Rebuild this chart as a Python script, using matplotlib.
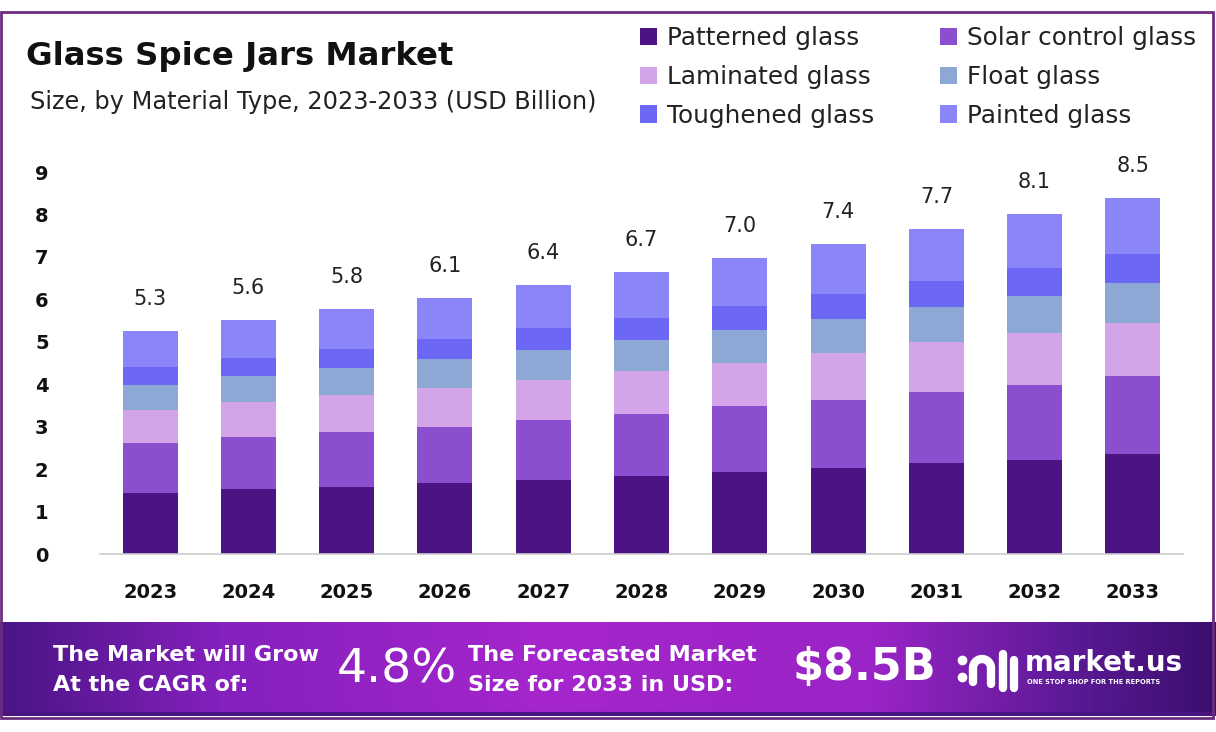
import matplotlib
matplotlib.use('Agg')
import matplotlib.pyplot as plt
import numpy as np
from matplotlib.colors import LinearSegmentedColormap
from matplotlib.patches import Rectangle, Patch
from matplotlib.lines import Line2D

plt.rcParams['font.family'] = 'DejaVu Sans'

# ===== data =====
years = ["2023", "2024", "2025", "2026", "2027", "2028", "2029", "2030", "2031", "2032", "2033"]
patterned = [1.44, 1.53, 1.59, 1.68, 1.74, 1.84, 1.94, 2.02, 2.14, 2.21, 2.35]
solar_control = [1.17, 1.22, 1.29, 1.32, 1.42, 1.45, 1.55, 1.61, 1.68, 1.77, 1.84]
laminated = [0.78, 0.84, 0.87, 0.92, 0.94, 1.02, 1.02, 1.11, 1.17, 1.23, 1.26]
float_glass = [0.59, 0.61, 0.64, 0.67, 0.71, 0.73, 0.78, 0.80, 0.82, 0.87, 0.93]
toughened = [0.43, 0.43, 0.44, 0.48, 0.51, 0.51, 0.55, 0.59, 0.63, 0.66, 0.68]
painted = [0.84, 0.88, 0.94, 0.97, 1.02, 1.09, 1.13, 1.17, 1.21, 1.28, 1.34]
total_labels = ["5.3", "5.6", "5.8", "6.1", "6.4", "6.7", "7.0", "7.4", "7.7", "8.1", "8.5"]

series_names = ["Patterned glass", "Solar control glass", "Laminated glass",
                "Float glass", "Toughened glass", "Painted glass"]
series_vals = [patterned, solar_control, laminated, float_glass, toughened, painted]
series_colors = ["#4c1482", "#8a4ecf", "#d3a4e7", "#8ea8d6", "#6d67f6", "#8b85fa"]

W, H = 1216, 732
fig = plt.figure(figsize=(W / 100, H / 100), dpi=100)

def fx(px):
    return px / W

def fy(py):
    return 1 - py / H

# ===== outer frame =====
fig.patches.append(Rectangle((fx(1), fy(718)), fx(1212), 706 / H, transform=fig.transFigure,
                             fill=False, edgecolor="#6a2c80", linewidth=2, zorder=0))

# ===== main chart =====
ax = fig.add_axes([fx(100), fy(554), fx(1083), 404 / H])
x = np.arange(len(years))
bottom = np.zeros(len(years))
handles = []
for name, vals, col in zip(series_names, series_vals, series_colors):
    ax.bar(x, vals, width=0.56, bottom=bottom, color=col, edgecolor='none', label=name)
    bottom += np.array(vals)
    handles.append(Patch(facecolor=col, edgecolor='none', label=name))

for xi, tot, lab in zip(x, bottom, total_labels):
    ax.annotate(lab, (xi, tot), xytext=(0, 23), textcoords='offset points',
                ha='center', va='center', fontsize=15, color="#222222", annotation_clip=False)

ax.set_xlim(-0.51, 10.51)
ax.set_ylim(0, 9.52)
ax.set_yticks(range(0, 10))
ax.set_xticks(x)
ax.set_xticklabels(years)
for s in ["top", "right", "left"]:
    ax.spines[s].set_visible(False)
ax.spines["bottom"].set_color("#cccccc")
ax.spines["bottom"].set_linewidth(1.2)
ax.tick_params(axis='both', length=0, labelsize=14)
ax.tick_params(axis='x', pad=21)
ax.tick_params(axis='y', pad=37)
for t in ax.get_xticklabels() + ax.get_yticklabels():
    t.set_fontweight('bold')
    t.set_color("#111111")

# ===== title =====
fig.text(fx(26), fy(57), "Glass Spice Jars Market", fontsize=23.3, fontweight='bold',
         color="#111111", va='center', ha='left')
fig.text(fx(30), fy(102), "Size, by Material Type, 2023-2033 (USD Billion)", fontsize=17.3,
         color="#222222", va='center', ha='left')

# ===== legend (two columns) =====
leg_kw = dict(loc='upper left', frameon=False, fontsize=17.8, handlelength=0.7, handleheight=0.7,
              handletextpad=0.4, labelspacing=0.6, borderpad=0, borderaxespad=0,
              labelcolor="#222222")
fig.legend(handles=[handles[0], handles[2], handles[4]],
           bbox_to_anchor=(fx(640), fy(26)), **leg_kw)
fig.legend(handles=[handles[1], handles[3], handles[5]],
           bbox_to_anchor=(fx(940), fy(26)), **leg_kw)

# ===== bottom banner =====
bax = fig.add_axes([0, fy(716), 1, (716 - 622) / H])
cmap = LinearSegmentedColormap.from_list("banner", [
    (0.0, "#4a1585"), (0.18, "#8420bd"), (0.45, "#a526cc"), (0.72, "#9a24c6"),
    (0.88, "#5c1a97"), (1.0, "#3b0e6e")])
grad = np.linspace(0, 1, 512).reshape(1, -1)
bax.imshow(grad, aspect='auto', cmap=cmap, extent=[0, W, 716, 622])
bax.axhline(714, color="#4a1480", linewidth=3)
bax.set_xlim(0, W)
bax.set_ylim(716, 622)
bax.axis('off')

white = "#ffffff"
bax.text(53, 655, "The Market will Grow", fontsize=16, fontweight='bold', color=white, va='center')
bax.text(53, 685, "At the CAGR of:", fontsize=16, fontweight='bold', color=white, va='center')
bax.text(337, 670, "4.8%", fontsize=34, color=white, va='center', ha='left')
bax.text(468, 655, "The Forecasted Market", fontsize=16, fontweight='bold', color=white, va='center')
bax.text(468, 685, "Size for 2033 in USD:", fontsize=16, fontweight='bold', color=white, va='center')
bax.text(792, 668, "$8.5B", fontsize=32, fontweight='bold', color=white, va='center', ha='left')

# logo icon
lw = 6
bax.plot([962, 962], [660, 677], 'o', color=white, markersize=6)
th = np.linspace(np.pi, 0, 30)
arc_x = 982 + 9 * np.cos(th)
arc_y = 668 - 9 * np.sin(th)
bax.add_line(Line2D(np.r_[973, arc_x, 991, 991], np.r_[682, arc_y, 680, 684],
                    color=white, lw=lw, solid_capstyle='round'))
bax.add_line(Line2D([1003, 1003], [654, 688], color=white, lw=lw, solid_capstyle='round'))
bax.add_line(Line2D([1014, 1014], [660, 688], color=white, lw=lw, solid_capstyle='round'))
bax.text(1025, 663, "market.us", fontsize=20, fontweight='bold', color=white, va='center', ha='left')
bax.text(1027, 682, "ONE STOP SHOP FOR THE REPORTS", fontsize=4.8, fontweight='bold',
         color=white, va='center', ha='left')

fig.savefig("out.png", dpi=100)
